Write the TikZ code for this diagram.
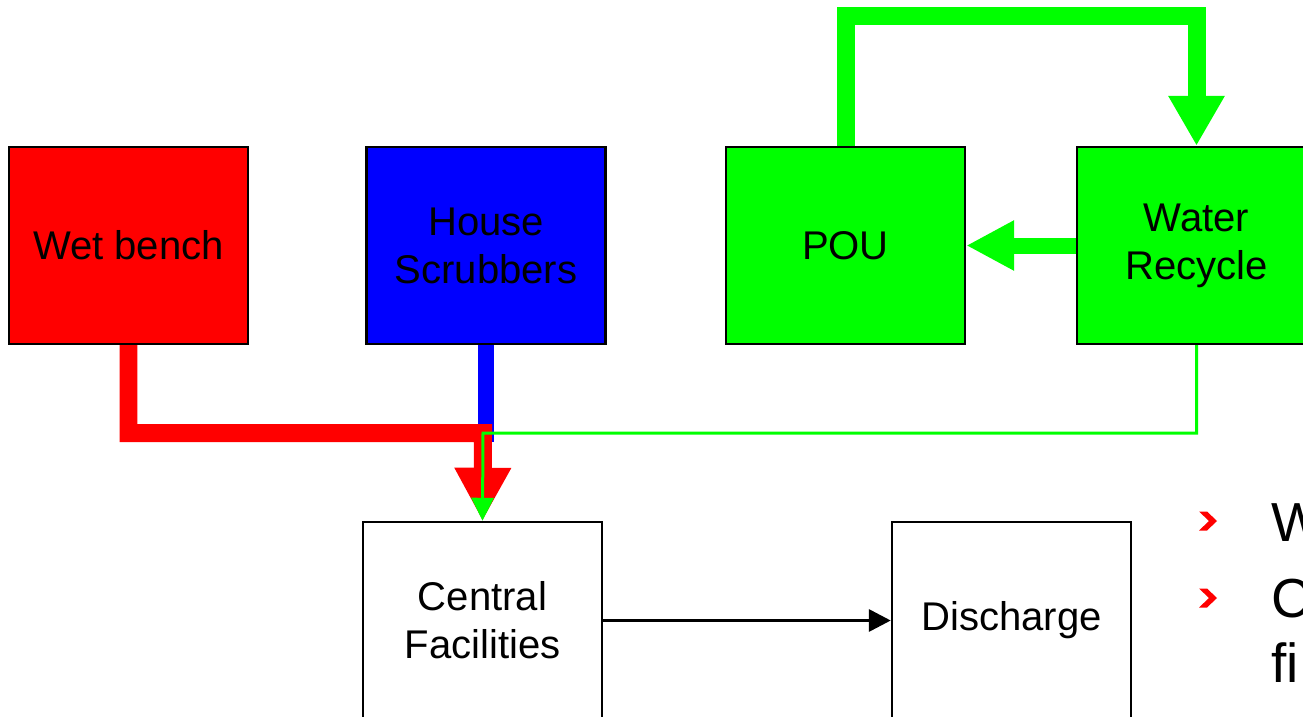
\documentclass[tikz,border=0pt]{standalone}
\usepackage{fontspec}
\setmainfont{Liberation Sans}
\usepackage{xcolor}
\usetikzlibrary{arrows.meta, calc}

\definecolor{flowred}{RGB}{255,0,0}
\definecolor{flowblue}{RGB}{0,0,255}
\definecolor{flowgreen}{RGB}{0,255,0}

\tikzset{
  unit/.style={draw=black, line width=0.05cm, minimum width=4.78cm, minimum height=3.94cm,
    inner sep=0pt, align=center, font=\fontsize{22.8}{27.3}\selectfont},
  item/.style={inner sep=0pt, anchor=base west, font=\fontsize{31.3}{37.5}\selectfont},
  pipe/.style={line width=#1, line join=miter},
}

\begin{document}
\begin{tikzpicture}[x=0.02cm, y=-0.02cm]
\useasboundingbox (0,0) rectangle (1303,717);
% Process units
\node[unit, fill=flowred] (wet) at (128.5,245.5) {Wet bench};
\node[unit, fill=flowblue] (scrub) at (486,245.5) {House\\Scrubbers};
\node[unit, fill=flowgreen] (pou) at (845.5,245.5) {POU};
\node[unit, fill=flowgreen] (recycle) at (1196.5,245.5) {Water\\Recycle};
\node[unit] (central) at (482.5,620.5) {Central\\Facilities};
\node[unit] (discharge) at (1011.5,620.5) {Discharge};
% Routing points
\coordinate (merge) at (483,433);
\coordinate (blueend) at (486,442);
\coordinate (looptop) at (1196.5,16);
% Drains to central facilities
\draw[pipe=0.32cm, flowblue] (scrub.south) -- (blueend);
\draw[pipe=0.36cm, flowred, -{Triangle[length=1.06cm, width=1.06cm]}] (wet.south) |- (merge) -- (central.north);
\draw[pipe=0.06cm, flowgreen, -{Triangle[length=0.46cm, width=0.44cm]}] (recycle.south) |- (merge) -- (central.north);
% Recycle loop
\draw[pipe=0.36cm, flowgreen, -{Triangle[length=1cm, width=1.06cm]}] (pou.north) |- (looptop) -- (recycle.north);
\draw[pipe=0.32cm, flowgreen, -{Triangle[length=0.96cm, width=0.94cm]}] (recycle.west) -- (pou.east);
% Out to discharge
\draw[pipe=0.07cm, black, -{Triangle[length=0.44cm, width=0.44cm]}] (central.east) -- (discharge.west);
% Bullets
\foreach \yy in {521,598}
  \fill[flowred] (1199,\yy-9.5) -- (1207,\yy-9.5) -- (1217,\yy) -- (1207,\yy+9.5) -- (1199,\yy+9.5) -- (1209,\yy) -- cycle;
\node[item] (itemW) at (1271,541) {W};
\node[item] (itemC) at (1271,617) {C};
\node[item] (itemfi) at (1271,682) {fi};
\end{tikzpicture}
\end{document}
